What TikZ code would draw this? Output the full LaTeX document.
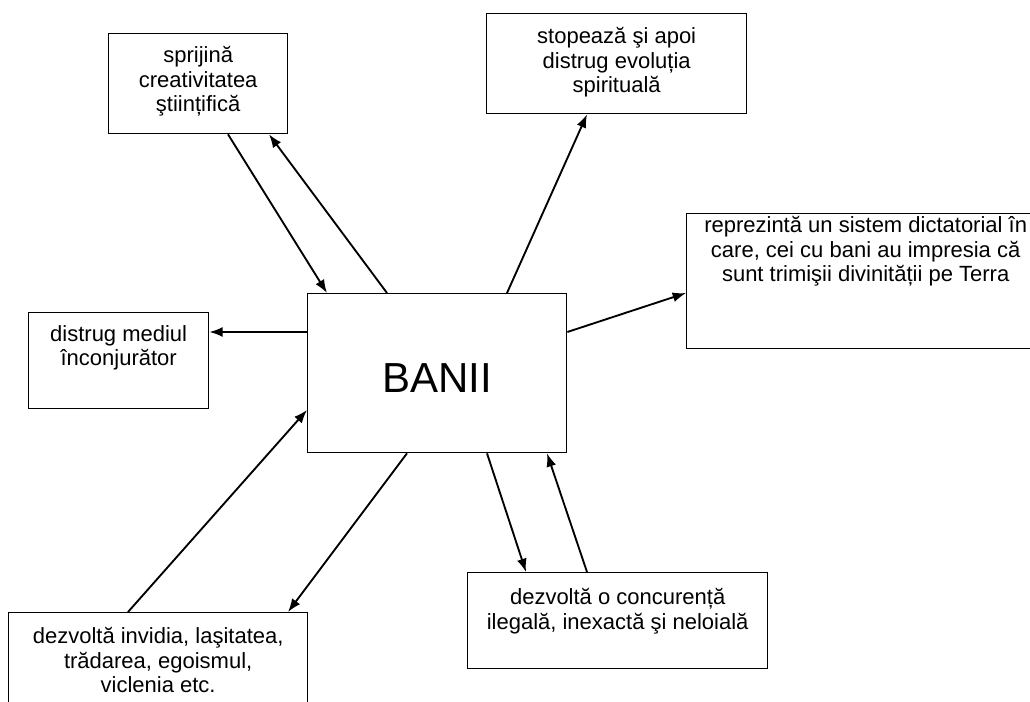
\documentclass[tikz,border=0pt]{standalone}
\usepackage{fontspec}
\setmainfont{Liberation Sans}
\usetikzlibrary{arrows.meta}

\tikzset{
    box/.style={draw, rectangle, line width=1pt, inner sep=0pt, anchor=north west},
    txt/.style={align=center, inner sep=0pt, anchor=north, font=\fontsize{16.5}{18.4}\selectfont},
    arr/.style={-{Latex[length=10pt,width=7.5pt]}, line width=1.4pt}
}

\begin{document}
\begin{tikzpicture}[x=0.75pt, y=-0.75pt]
\clip (0,0) rectangle (1030,702);

\node[box, minimum width=134.25pt, minimum height=75pt] (sprijina) at (108,33) {};
\node[box, minimum width=195pt, minimum height=75pt] (stopeaza) at (486,13) {};
\node[box, minimum width=268.5pt, minimum height=101.25pt] (reprezinta) at (686,213) {};
\node[box, minimum width=135pt, minimum height=72pt] (distrug) at (28,312) {};
\node[box, minimum width=194.25pt, minimum height=119.25pt] (banii) at (307,293) {};
\node[box, minimum width=224.25pt, minimum height=82.5pt] (invidia) at (8,612) {};
\node[box, minimum width=225pt, minimum height=72pt] (concurenta) at (467,572) {};

\node[txt] (sprijina-t) at ([shift={(0,13)}]sprijina.north) {sprijină\\creativitatea\\ştiințifică};
\node[txt] (stopeaza-t) at ([shift={(0,14)}]stopeaza.north) {stopează şi apoi\\distrug evoluția\\spirituală};
\node[txt] (reprezinta-t) at ([shift={(0,3)}]reprezinta.north) {reprezintă un sistem dictatorial în\\care, cei cu bani au impresia că\\sunt trimişii divinității pe Terra};
\node[txt] (distrug-t) at ([shift={(0,13)}]distrug.north) {distrug mediul\\înconjurător};
\node[font=\fontsize{31.5}{36}\selectfont, inner sep=0pt] (banii-t) at ([shift={(0,5)}]banii.center) {BANII};
\node[txt] (invidia-t) at ([shift={(0,15)}]invidia.north) {dezvoltă invidia, laşitatea,\\trădarea, egoismul,\\viclenia etc.};
\node[txt] (concurenta-t) at ([shift={(0,16)}]concurenta.north) {dezvoltă o concurență\\ilegală, inexactă şi neloială};

\draw[arr] ([shift={(120,0)}]sprijina.south west) -- ([shift={(20,0)}]banii.north west);
\draw[arr] ([shift={(80,0)}]banii.north west) -- ([shift={(161,0)}]sprijina.south west);
\draw[arr] ([shift={(200,0)}]banii.north west) -- ([shift={(101,0)}]stopeaza.south west);
\draw[arr] ([shift={(0,39)}]banii.north east) -- ([shift={(0,80)}]reprezinta.north west);
\draw[arr] ([shift={(0,39)}]banii.north west) -- ([shift={(0,20)}]distrug.north east);
\draw[arr] ([shift={(120,0)}]invidia.north west) -- ([shift={(0,117)}]banii.north west);
\draw[arr] ([shift={(100,0)}]banii.south west) -- ([shift={(280,0)}]invidia.north west);
\draw[arr] ([shift={(180,0)}]banii.south west) -- ([shift={(59,0)}]concurenta.north west);
\draw[arr] ([shift={(120,0)}]concurenta.north west) -- ([shift={(240,0)}]banii.south west);

\end{tikzpicture}
\end{document}
